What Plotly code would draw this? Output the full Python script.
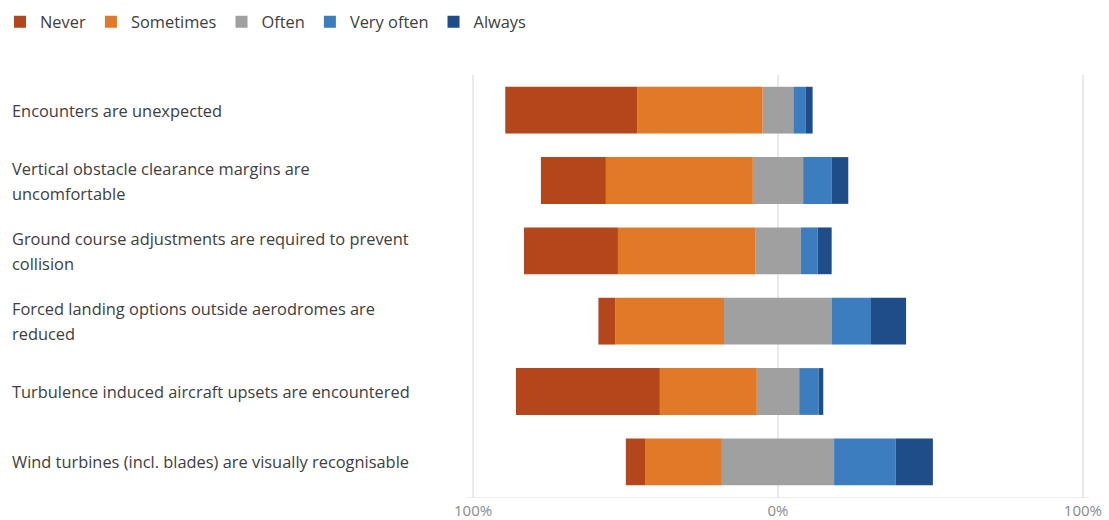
import plotly.graph_objects as go

categories = [
    "Encounters are unexpected",
    "Vertical obstacle clearance margins are<br>uncomfortable",
    "Ground course adjustments are required to prevent<br>collision",
    "Forced landing options outside aerodromes are<br>reduced",
    "Turbulence induced aircraft upsets are encountered",
    "Wind turbines (incl. blades) are visually recognisable",
]
never = [43.3, 21.3, 30.8, 5.5, 47.2, 6.3]
sometimes = [41.1, 48.2, 45.0, 35.7, 31.8, 25.2]
often = [10.1, 16.5, 15.0, 35.4, 13.9, 36.8]
very_often = [4.1, 9.4, 5.5, 12.8, 6.4, 20.2]
always = [2.2, 5.4, 4.6, 11.5, 1.5, 12.2]

tick_vals = [-100, 0, 100]
tick_text = ["100%", "0%", "100%"]

colors = {
    "Never": "#B3461B",
    "Sometimes": "#E07A29",
    "Often": "#A0A0A0",
    "Very often": "#3B7DBE",
    "Always": "#1E4D89",
}

fig = go.Figure()
W = 0.665

def add(name, vals, sign, rank, show=True):
    fig.add_trace(go.Bar(
        y=categories, x=[sign * v for v in vals], orientation="h",
        name=name, marker=dict(color=colors[name], line=dict(width=0)),
        width=W, legendgroup=name, showlegend=show, legendrank=rank,
    ))

half = [v / 2 for v in often]
add("Often", half, -1, 3, show=False)
add("Sometimes", sometimes, -1, 2)
add("Never", never, -1, 1)
add("Often", half, 1, 3)
add("Very often", very_often, 1, 4)
add("Always", always, 1, 5)

XMIN, XMAX = -102, 102
L, R = 467, 1089
FS = 16.4
fig.update_layout(
    width=1109, height=520,
    margin=dict(l=L, r=1109 - R, t=75, b=23, autoexpand=False),
    barmode="relative",
    paper_bgcolor="white", plot_bgcolor="white",
    font=dict(family="Open Sans", size=FS, color="#404040"),
    legend=dict(orientation="h", xref="container", yref="container",
                x=-17 / 1109, xanchor="left",
                y=1 - 22 / 520, yanchor="middle",
                font=dict(size=FS, color="#404040"), traceorder="normal",
                itemwidth=30),
    xaxis=dict(range=[XMIN, XMAX], tickvals=tick_vals, ticktext=tick_text,
               showgrid=True, gridcolor="#e9e9e9", gridwidth=1.5,
               zeroline=False, layer="above traces", automargin=False,
               tickfont=dict(size=15, color="#8a8a8a"),
               showline=True, linecolor="#ececec", fixedrange=True),
    yaxis=dict(autorange="reversed", showticklabels=False, showgrid=False,
               zeroline=False, fixedrange=True, automargin=False),
)

line_gap = 25
for cat in categories:
    lines = cat.split("<br>")
    n = len(lines)
    for i, ln in enumerate(lines):
        fig.add_annotation(
            xref="paper", yref="y", x=-(L - 10) / (R - L), y=cat,
            text=ln, showarrow=False, xanchor="left", yanchor="middle",
            yshift=((n - 1) / 2 - i) * line_gap,
            font=dict(size=FS, color="#404040"),
        )

fig.write_html("out.html")
